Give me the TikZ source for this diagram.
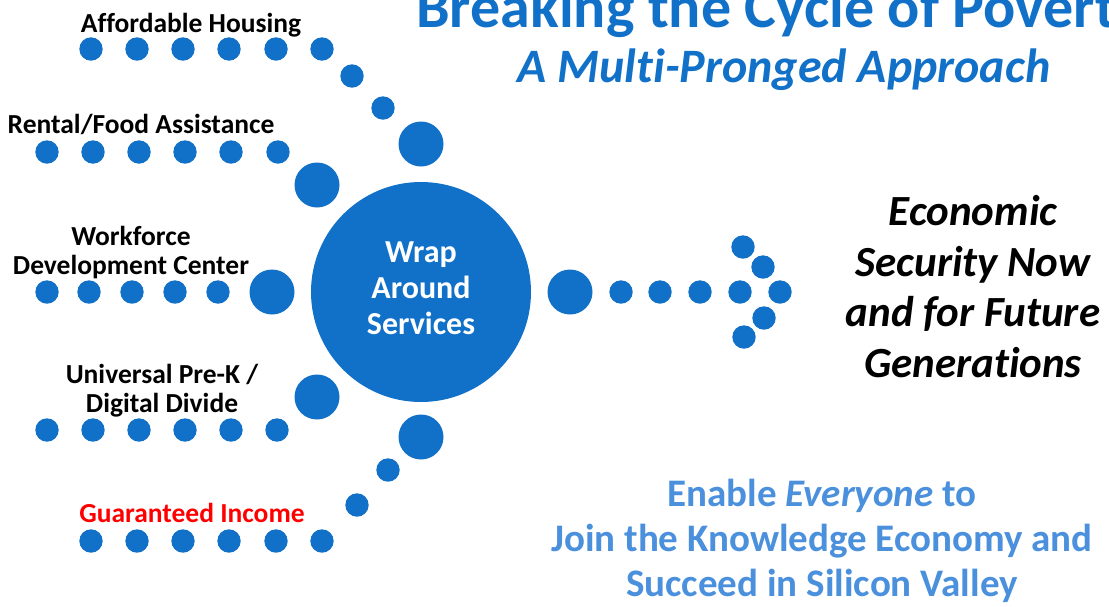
\documentclass[tikz,border=0pt]{standalone}
\usepackage{fontspec}
\setmainfont{Carlito}[Ligatures=NoCommon]
\definecolor{dotblue}{RGB}{17,112,199}
\definecolor{lightblue}{RGB}{74,144,220}
\definecolor{gired}{RGB}{255,0,0}
\begin{document}
\begin{tikzpicture}[x=1pt,y=-1pt,
  dot/.style={circle,fill=dotblue,inner sep=0pt,minimum size=23.4pt},
  bigdot/.style={circle,fill=dotblue,inner sep=0pt,minimum size=45pt},
  hub/.style={circle,fill=dotblue,inner sep=0pt,minimum size=220pt},
  lbl/.style={font=\fontsize{27.5}{29}\selectfont\bfseries,anchor=base,align=center,inner sep=0pt},
  hubtext/.style={font=\fontsize{32}{36}\selectfont\bfseries,text=white,anchor=base,align=center,inner sep=0pt},
  goal/.style={font=\fontsize{43}{50.5}\selectfont\bfseries\itshape,anchor=base,align=center,inner sep=0pt},
  vision/.style={font=\fontsize{39}{45}\selectfont\bfseries,text=lightblue,anchor=base,align=center,inner sep=0pt},
  titletext/.style={font=\fontsize{60}{60}\selectfont\bfseries,text=dotblue,anchor=base west,inner sep=0pt},
  subtitletext/.style={font=\fontsize{48}{48}\selectfont\bfseries\itshape,text=dotblue,anchor=base,inner sep=0pt}]
\useasboundingbox (0,0) rectangle (1109,606);
\clip (0,0) rectangle (1109,606);
% title
\node[titletext] (title) at (416,27) {Breaking the Cycle of Poverty};
\node[subtitletext] (subtitle) at (784,82) {A Multi-Pronged Approach};
% hub
\node[hub] (hub) at (421,292) {};
\node[hubtext] (hubtxt) at (421,334) {Wrap\\Around\\Services};
% affordable housing
\foreach \x [count=\i] in {91,137,183,229,276,322} \node[dot] (a\i) at (\x,49) {};
\node[dot] (a7) at (352,76) {};
\node[dot] (a8) at (383,108) {};
\node[bigdot] (A) at (421,144) {};
\node[lbl] (la) at (191,32) {Affordable Housing};
% rental/food
\foreach \x [count=\i] in {47,93,139,185,231,278} \node[dot] (r\i) at (\x,152) {};
\node[bigdot] (R) at (317,185) {};
\node[lbl] (lr) at (141,133) {Rental/Food Assistance};
% workforce
\foreach \x [count=\i] in {47,89,132,175,218} \node[dot] (w\i) at (\x,292) {};
\node[bigdot] (W) at (272,292) {};
\node[lbl] (lw) at (131,274) {Workforce\\Development Center};
% pre-k
\foreach \x [count=\i] in {47,93,139,185,231,277} \node[dot] (p\i) at (\x,430) {};
\node[bigdot] (P) at (317,397) {};
\node[lbl] (lp) at (162,412) {Universal Pre-K /\\Digital Divide};
% guaranteed income
\foreach \x [count=\i] in {91,137,183,229,276,322} \node[dot] (g\i) at (\x,541) {};
\node[dot] (g7) at (357,505) {};
\node[dot] (g8) at (388,470) {};
\node[bigdot] (G) at (421,437) {};
\node[lbl,text=gired] (lg) at (192,522) {Guaranteed Income};
% arrow
\node[bigdot] (O) at (570,292) {};
\foreach \x [count=\i] in {621,660,700,740,780} \node[dot] (o\i) at (\x,292) {};
\node[dot] (h1) at (743,247) {};
\node[dot] (h2) at (763,267) {};
\node[dot] (h3) at (764,318) {};
\node[dot] (h4) at (744,337) {};
% goal
\node[goal] (goal) at (973,377) {Economic\\Security Now\\and for Future\\Generations};
% vision
\node[vision] (vision) at (822,596) {Enable \textit{Everyone} to\\Join the Knowledge Economy and\\Succeed in Silicon Valley};
\end{tikzpicture}
\end{document}
